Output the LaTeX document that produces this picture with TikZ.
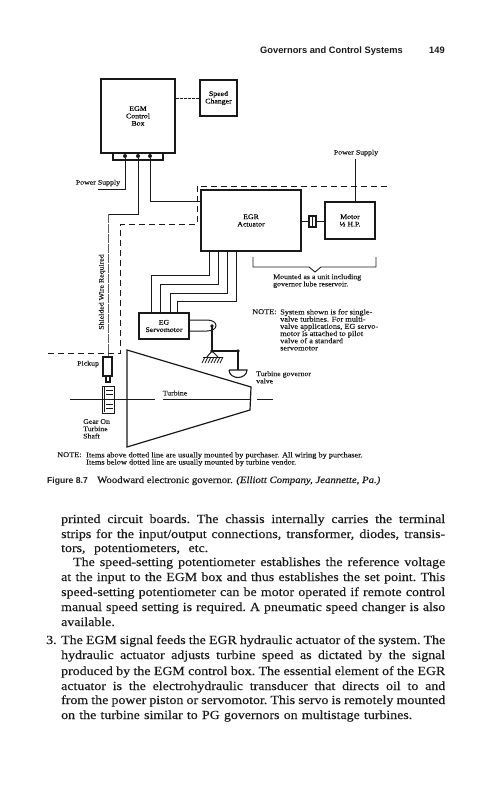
\documentclass[tikz,border=0pt]{standalone}
\usepackage{fontspec}
\setmainfont{Liberation Serif}
\newfontfamily\bodyfont[FakeStretch=1.12,FakeBold=0.25]{Liberation Serif}
\newfontfamily\figfont[FakeStretch=1.12,FakeBold=0.25]{Liberation Serif}
\newfontfamily\headfont{Liberation Sans}
\usetikzlibrary{positioning}
\definecolor{ink}{RGB}{25,25,25}
\tikzset{
  block/.style={draw=ink,line width=1.2pt,inner sep=0pt,align=center,font=\figfont\fontsize{7}{7.4}\selectfont},
  tag/.style={font=\figfont\fontsize{7}{7.3}\selectfont,text=ink,inner sep=0pt,align=left},
  notetag/.style={tag,font=\figfont\fontsize{7.4}{7.2}\selectfont},
  wire/.style={draw=ink,line width=0.7pt},
  oil/.style={draw=ink,line width=0.85pt},
  rod/.style={draw=ink,line width=1.4pt},
  boundary/.style={draw=ink,line width=0.85pt,dash pattern=on 6pt off 4pt},
  shielded/.style={draw=ink!70,line width=0.7pt,dash pattern=on 9pt off 1pt},
  terminal/.style={circle,fill=ink,inner sep=0pt,minimum size=4pt},
  joint/.style={circle,fill=ink,inner sep=0pt,minimum size=3.8pt},
  bodyline/.style={font=\bodyfont\fontsize{12.4}{14}\selectfont,text=ink,inner sep=0pt,anchor=base west},
}
\begin{document}
\begin{tikzpicture}[x=1pt,y=-1pt]
  \useasboundingbox (0,0) rectangle (490,800);
  % page head
  \node[font=\headfont\bfseries\fontsize{9.3}{11}\selectfont,text=ink,inner sep=0pt,anchor=base west] (head) at (260,53) {Governors and Control Systems};
  \node[font=\headfont\bfseries\fontsize{9.3}{11}\selectfont,text=ink,inner sep=0pt,anchor=base west] (pageno) at (429,53) {149};
  % boxes
  \node[block,minimum width=74pt,minimum height=74pt] (egm) at (138,116) {EGM\\Control\\Box};
  \node[block,minimum width=37pt,minimum height=36pt] (speed) at (218.5,98) {Speed\\Changer};
  \node[block,minimum width=50pt,minimum height=7pt] (strip) at (138,156.5) {};
  \node[block,minimum width=100pt,minimum height=61pt] (egr) at (251,220.5) {EGR\\Actuator};
  \node[block,minimum width=7pt,minimum height=11pt] (coupling) at (312.5,221.5) {};
  \node[block,minimum width=50pt,minimum height=37pt] (motor) at (350,220.5) {Motor\\½ H.P.};
  \node[block,minimum width=50pt,minimum height=26pt] (servo) at (164,326) {EG\\Servomotor};
  \node[block,minimum width=9pt,minimum height=19pt] (pickup) at (107.5,366.5) {};
  \node[block,minimum width=4pt,minimum height=6pt] (stub) at (108,379) {};
  \node[block,minimum width=12pt,minimum height=27pt,line width=0.9pt] (gear) at (108,399.5) {};
  \foreach \a/\x in {1/125,2/138,3/150}
    \node[terminal] (t\a) at (\x,156) {};
  % wires
  \node[tag] (egmsupply) at (98,183) {Power Supply};
  \coordinate (egmfree) at (98,189);
  \coordinate (shieldtop) at (108,214);
  \draw[wire] (t1) |- (egmfree);
  \draw[wire] (t2) |- (shieldtop);
  \draw[wire] (t3) |- (egr.west |- 0,201);
  \draw[shielded] (shieldtop) -- (pickup.north -| shieldtop);
  \draw[wire,dash pattern=on 3pt off 1pt] (egm.east |- speed.west) -- (speed.west);
  \draw[wire] (egr.east |- coupling.west) -- (coupling.west);
  \draw[wire] (coupling.east) -- (motor.west |- coupling.east);
  \draw[wire,line width=0.5pt] (coupling.north) -- (coupling.south);
  \node[tag] (motorsupply) at (356,153) {Power Supply};
  \draw[wire] (355,159) -- (motor.north -| 355,0);
  % dotted line between purchaser and vendor
  \draw[boundary] (48,353) -- (120.5,353) -- (120.5,224) -- (197,224) -- (197,186) -- (389,186);
  % oil lines
  \foreach \x/\y/\xs in {209/275/151,218/284/160,227/293/170,236/301/177}
    \draw[oil] (egr.south -| \x,0) |- (\xs,\y) -- (servo.north -| \xs,0);
  % linkage
  \coordinate (pivot) at (212,326);
  \coordinate (fulcrum) at (212,351);
  \coordinate (valvetop) at (238,351);
  \draw[wire,line width=1pt] (servo.east |- 0,320) -- (207,320) .. controls (219,320) and (219,331) .. (207,331) -- (servo.east |- 0,331);
  \draw[rod] (pivot) -- (fulcrum) -- (valvetop) -- (238,370);
  \node[joint] (j1) at (pivot) {};
  \node[joint] (j2) at (fulcrum) {};
  \node[joint] (j3) at (valvetop) {};
  \draw[rod,line width=1pt] (207,357) -- (fulcrum) -- (218,357);
  \draw[draw=ink,line width=0.8pt] (203,357) -- (223,357);
  \foreach \x in {205,208,211,214,217,220,223}
    \draw[draw=ink,line width=0.8pt] (\x,357) -- (\x-3,363);
  \draw[draw=ink,line width=1.1pt] (229,370) -- (247,370) .. controls (247,375) and (242,377.5) .. (238,377.5) .. controls (234,377.5) and (229,375) .. (229,370);
  % turbine
  \draw[draw=ink,line width=1.2pt] (127,350) -- (251,387) -- (250,410) -- (127,447) -- cycle;
  \coordinate (shaftl) at (70,399);
  \coordinate (shaftm) at (155,399);
  \draw[wire] (shaftl) -- (shaftm);
  \draw[wire] (163,399) -- (250,399);
  \draw[wire] (257,399) -- (273,399);
  \node[tag] (turbine) at (175,393) {Turbine};
  % gear
  \foreach \y in {390,394,404,408}
    \draw[draw=ink,line width=0.9pt] (106,\y) -- (113,\y);
  \draw[draw=ink,line width=0.5pt] (104.5,387) -- (104.5,412);
  % labels
  \node[tag,rotate=90] (shieldtag) at (102,292) {Shielded Wire Required};
  \node[tag,anchor=west] (pickuptag) at (77,364) {Pickup};
  \node[tag,anchor=north west] (geartag) at (83,419) {Gear On\\Turbine\\Shaft};
  \draw[draw=ink,line width=0.85pt] (253,257) -- (253,267) -- (309,267) -- (315,272) -- (321,267) -- (376,267) -- (376,257);
  \node[tag,anchor=north west] (mounted) at (273,274) {Mounted as a unit including\\governor lube reservoir.};
  \node[notetag,anchor=north west] (notehead) at (252,309) {NOTE:};
  \node[notetag,anchor=north west] (note) at (280,309) {System shown is for single-\\valve turbines. For multi-\\valve applications, EG servo-\\motor is attached to pilot\\valve of a standard\\servomotor};
  \node[tag,anchor=north west] (valvetag) at (256,371) {Turbine governor\\valve};
  \node[notetag,anchor=north west] (notebelowhead) at (57,452) {NOTE:};
  \node[notetag,anchor=north west] (notebelow) at (86,452) {Items above dotted line are usually mounted by purchaser. All wiring by purchaser.\\Items below dotted line are usually mounted by turbine vendor.};
  % caption
  \node[font=\headfont\bfseries\fontsize{8.6}{10}\selectfont,text=ink,inner sep=0pt,anchor=base west] (figno) at (47,483) {Figure 8.7};
  \node[font=\bodyfont\fontsize{9.6}{11}\selectfont,text=ink,inner sep=0pt,anchor=base west] (caption) at (97,483) {Woodward electronic governor. {\itshape (Elliott Company, Jeannette, Pa.)}};
  % running text
  \foreach \n/\x/\w/\y/\t in {
    a/61/384/523/{printed circuit boards. The chassis internally carries the terminal},
    b/61/384/538/{strips for the input/output connections, transformer, diodes, transis-},
    c/61/147/552/{tors, potentiometers, etc.},
    d/73/372/566/{The speed-setting potentiometer establishes the reference voltage},
    e/61/384/581/{at the input to the EGM box and thus establishes the set point. This},
    f/61/384/596/{speed-setting potentiometer can be motor operated if remote control},
    g/61/384/611/{manual speed setting is required. A pneumatic speed changer is also},
    h/61/54/626/{available.},
    i/61/384/644/{The EGM signal feeds the EGR hydraulic actuator of the system. The},
    j/61/384/659/{hydraulic actuator adjusts turbine speed as dictated by the signal},
    k/61/384/675/{produced by the EGM control box. The essential element of the EGR},
    l/61/384/690/{actuator is the electrohydraulic transducer that directs oil to and},
    m/61/384/704/{from the power piston or servomotor. This servo is remotely mounted},
    n/61/351/719/{on the turbine similar to PG governors on multistage turbines.}}
    \node[bodyline] (line\n) at (\x,\y) {\spaceskip=.24em plus 1fil minus .1em\xspaceskip=\spaceskip\makebox[\w pt][s]{\t}};
  \node[bodyline] (listno) at (46,644) {3.};
\end{tikzpicture}
\end{document}
